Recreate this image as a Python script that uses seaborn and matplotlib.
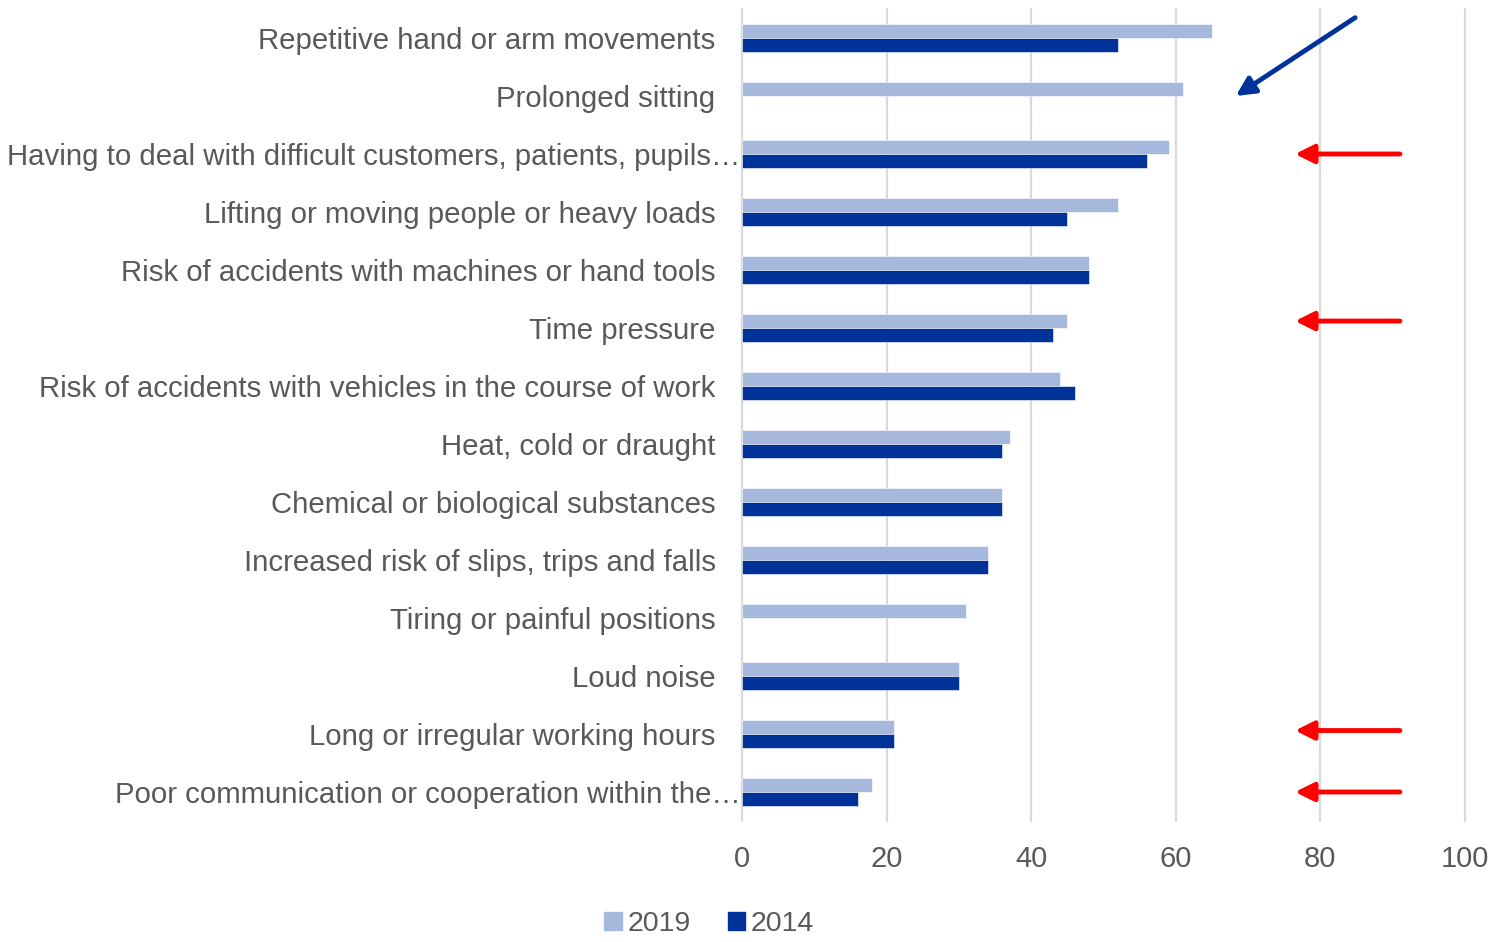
import pandas as pd
import matplotlib
matplotlib.use("Agg")
import matplotlib.pyplot as plt
import seaborn as sns
from matplotlib.transforms import blended_transform_factory, ScaledTranslation

categories = [
    "Repetitive hand or arm movements",
    "Prolonged sitting",
    "Having to deal with difficult customers, patients, pupils\u2026",
    "Lifting or moving people or heavy loads",
    "Risk of accidents with machines or hand tools",
    "Time pressure",
    "Risk of accidents with vehicles in the course of work",
    "Heat, cold or draught",
    "Chemical or biological substances",
    "Increased risk of slips, trips and falls",
    "Tiring or painful positions",
    "Loud noise",
    "Long or irregular working hours",
    "Poor communication or cooperation within the\u2026",
]
values_2019 = [65, 61, 59, 52, 48, 45, 44, 37, 36, 34, 31, 30, 21, 18]
values_2014 = [52, None, 56, 45, 48, 43, 46, 36, 36, 34, None, 30, 21, 16]
years = ["2019", "2014"]
colors = ["#A6B8DC", "#003399"]

# rows marked with a red arrow on the right
red_arrow_rows = [2, 5, 12, 13]

df = pd.DataFrame({
    "category": categories * 2,
    "year": ["2019"] * len(categories) + ["2014"] * len(categories),
    "value": values_2019 + values_2014,
})
df["value"] = df["value"].astype(float)

sns.set_style("white")
plt.rcParams["font.family"] = ["Liberation Sans", "DejaVu Sans"]
grey = "#595959"

fig = plt.figure(figsize=(14.93, 9.42), dpi=100)
ax = fig.add_axes([742 / 1493, 1 - 821 / 942, (1465 - 742) / 1493, (821 - 9) / 942])

sns.barplot(
    data=df, y="category", x="value", hue="year", hue_order=years,
    palette=colors, saturation=1, orient="h", width=0.48, ax=ax,
    edgecolor="white", linewidth=0.4, legend=False,
)

ax.set_xlim(0, 100)
ax.set_xticks(range(0, 101, 20))
ax.grid(axis="x", color="#D9D9D9", linewidth=1.6)
ax.grid(axis="y", visible=False)
ax.set_axisbelow(True)
for line in ax.get_xgridlines():
    line.set_clip_on(False)
for s in ax.spines.values():
    s.set_visible(False)
ax.set_xlabel("")
ax.set_ylabel("")
ax.tick_params(axis="x", length=0, pad=17, labelsize=21, labelcolor=grey)
ax.tick_params(axis="y", length=0)
ax.set_yticklabels([])

# category labels (truncated ones run up to the axis, like Excel)
for i, cat in enumerate(categories):
    dx = 1 if cat.endswith("\u2026") else 19
    tr = blended_transform_factory(ax.transAxes, ax.transData) + \
        ScaledTranslation(-dx / 72, -2.2 / 72, fig.dpi_scale_trans)
    ax.text(0, i, cat, transform=tr, ha="right", va="center",
            fontsize=21.2, color=grey)

# arrows
for r in red_arrow_rows:
    y = r - 0.12 if r == 5 else (r - 0.06 if r == 12 else r)
    ax.annotate("", xy=(76.5, y), xytext=(91, y),
                arrowprops=dict(arrowstyle="-|>", color="#FF0000", lw=3.5,
                                mutation_scale=28, shrinkA=0, shrinkB=0),
                annotation_clip=False)
ax.annotate("", xy=(68.3, 1.0), xytext=(84.8, -0.35),
            arrowprops=dict(arrowstyle="-|>", color="#003399", lw=3.5,
                            mutation_scale=28, shrinkA=0, shrinkB=0),
            annotation_clip=False)

handles = [plt.Rectangle((0, 0), 1, 1, color=c) for c in colors]
fig.legend(handles, years, loc="center", bbox_to_anchor=(709 / 1493, 1 - 924 / 942),
           ncol=2, frameon=False, fontsize=20.5, labelcolor=grey,
           handlelength=0.6, handleheight=0.6, handletextpad=0.2, columnspacing=1.3,
           borderpad=0.2)

fig.savefig("out.png", dpi=100)
